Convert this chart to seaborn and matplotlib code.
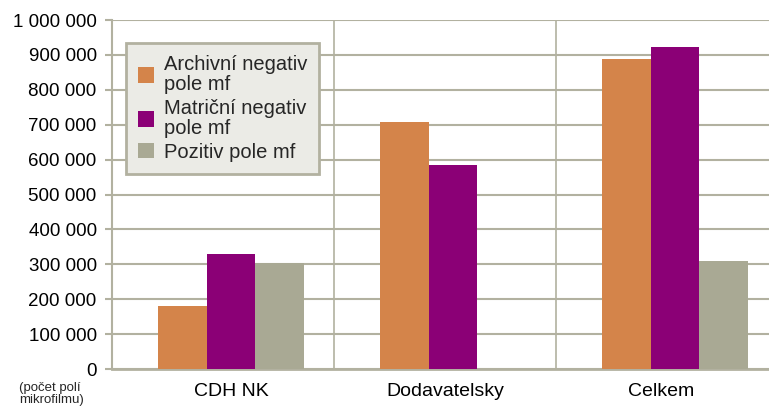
import matplotlib
matplotlib.use("Agg")
import matplotlib.pyplot as plt
import seaborn as sns
import pandas as pd
from matplotlib.ticker import FuncFormatter, FixedLocator

categories = ["CDH NK", "Dodavatelsky", "Celkem"]
series = ["Archivní negativ\npole mf", "Matriční negativ\npole mf", "Pozitiv pole mf"]
archivni = [181000, 708000, 888000]
matricni = [330000, 585000, 923000]
pozitiv = [304000, 0, 310000]
colors = ["#D4844A", "#8B0076", "#A9A994"]
yticks = [0, 100000, 200000, 300000, 400000, 500000, 600000, 700000, 800000, 900000, 1000000]
note = "(počet polí\nmikrofilmu)"

rows = []
for s, vals in zip(series, [archivni, matricni, pozitiv]):
    for c, v in zip(categories, vals):
        rows.append({"cat": c, "series": s, "value": v})
df = pd.DataFrame(rows)

sns.set_style("white")
plt.rcParams["font.family"] = ["Liberation Sans", "DejaVu Sans"]

grid_c = "#B2B1A0"
fig = plt.figure(figsize=(7.69, 4.13), dpi=100)
ax = fig.add_axes([0.1456, 0.1065, 0.8544, 0.845])

sns.barplot(data=df, x="cat", y="value", hue="series", palette=colors,
            width=0.66, gap=0, saturation=1, ax=ax, order=categories,
            hue_order=series, zorder=3, linewidth=0, edgecolor="none")

ax.set_ylim(0, 1000000)
ax.set_xlim(-0.536, 2.423)
ax.yaxis.set_major_locator(FixedLocator(yticks))
ax.yaxis.set_major_formatter(FuncFormatter(lambda v, p: f"{int(v):,}".replace(",", " ")))
ax.set_xlabel("")
ax.set_ylabel("")

# label positions as rendered in the reference (slightly left of group centres)
ax.set_xticks([0, 0.964, 1.939])
ax.set_xticklabels(categories)
ax.set_xticks([0.464, 1.464], minor=True)
ax.tick_params(axis="x", which="major", length=0, pad=10, labelsize=14, labelcolor="black")
ax.tick_params(axis="x", which="minor", length=5, width=1.5, color=grid_c, direction="out")
ax.tick_params(axis="y", which="major", length=5, width=1.5, color=grid_c, pad=6,
               labelsize=13.5, labelcolor="black", left=True)

ax.grid(True, axis="y", which="major", color=grid_c, linewidth=1.5, zorder=0)
ax.grid(True, axis="x", which="minor", color=grid_c, linewidth=1.2, zorder=0)
ax.grid(False, axis="x", which="major")
ax.set_axisbelow(True)

for side in ["top", "right"]:
    ax.spines[side].set_visible(False)
ax.spines["left"].set_color(grid_c)
ax.spines["left"].set_linewidth(1.5)
ax.spines["bottom"].set_color(grid_c)
ax.spines["bottom"].set_linewidth(2)

sns.move_legend(ax, loc="upper left", bbox_to_anchor=(0.021, 0.934), title=None,
                frameon=True, fancybox=False, fontsize=14.5, handlelength=0.8,
                handleheight=0.8, handletextpad=0.5, labelspacing=0.25,
                borderpad=0.6, borderaxespad=0)
leg = ax.get_legend()
fr = leg.get_frame()
fr.set_facecolor("#EBEBE6")
fr.set_edgecolor(grid_c)
fr.set_linewidth(2)
fr.set_alpha(1)
for t in leg.get_texts():
    t.set_linespacing(1.05)

fig.text(0.0247, 0.074, note, fontsize=9.5, va="top", ha="left", linespacing=0.95)

fig.savefig("out.png", dpi=100)
